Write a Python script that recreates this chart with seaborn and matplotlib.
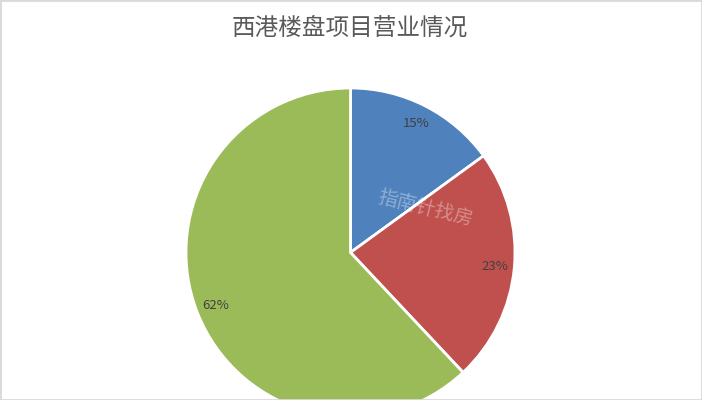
import matplotlib
matplotlib.use("Agg")
import matplotlib.pyplot as plt
import seaborn as sns
from matplotlib.patches import Rectangle

# data
categories = ["项目一", "项目二", "项目三"]
shares = [15, 23, 62]
colors = ["#4F81BD", "#C0504D", "#9BBB59"]
title = "西港楼盘项目营业情况"
watermark = "指南针找房"

sns.set_theme(style="white")
plt.rcParams['font.family'] = ['Noto Sans CJK SC', 'DejaVu Sans']

W, H = 702, 400
fig = plt.figure(figsize=(W / 100, H / 100), dpi=100)
ax = fig.add_axes([0, 0, 1, 1])

# pie centre and radius in pixels
cx, cy, r = 350.5, 252.5, 164.5

wedges, texts, autotexts = ax.pie(
    shares, labels=None, colors=colors, startangle=90, counterclock=False,
    autopct=lambda p: f"{p:.0f}%", pctdistance=0.88,
    wedgeprops=dict(edgecolor="white", linewidth=2),
    textprops=dict(color="#404040", fontsize=9.5),
)
ax.set_xlim(-cx / r, (W - cx) / r)
ax.set_ylim(-(H - cy) / r, cy / r)
ax.set_aspect("auto")
ax.axis("off")

fig.text(350 / W, 1 - 28 / H, title, ha="center", va="center",
         fontsize=17, color="#595959")

fig.text(425 / W, 1 - 208 / H, watermark, ha="center", va="center",
         fontsize=14, color="white", alpha=0.35, rotation=-14,
         style="italic")

fig.patches.append(Rectangle((0, 0), 1, 1, transform=fig.transFigure,
                             fill=False, edgecolor="#D9D9D9", linewidth=2))

fig.savefig("out.png", dpi=100)
